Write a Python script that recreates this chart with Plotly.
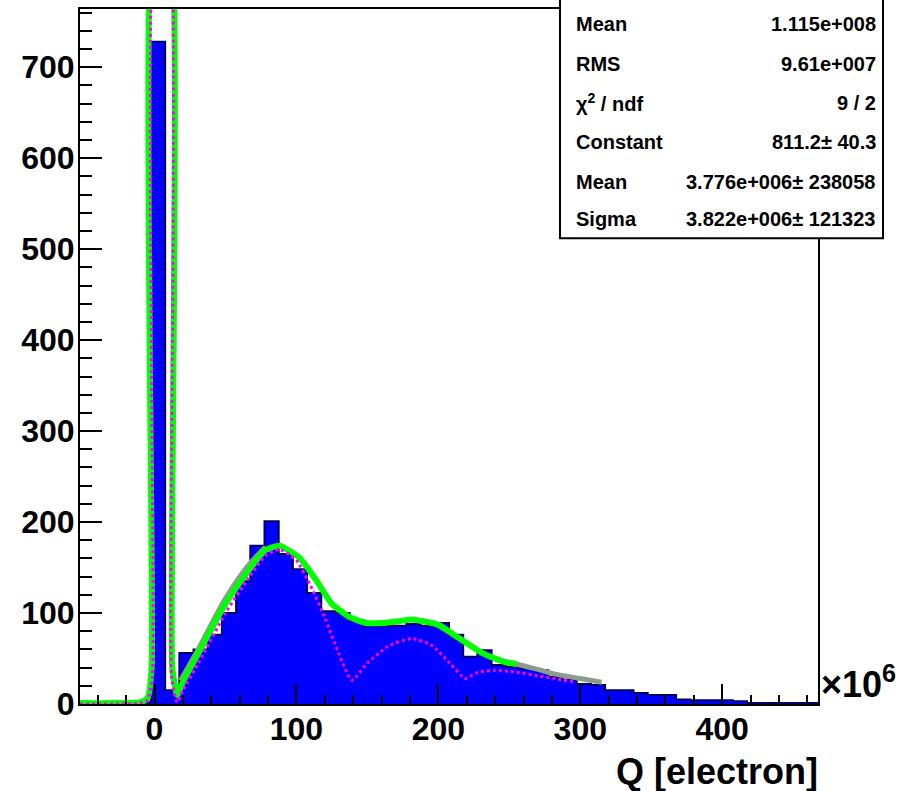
import plotly.graph_objects as go

# ---------------- data ----------------
bin_width = 10.0
bin_centers = [-47.5 + 10 * i for i in range(52)]
counts = [1, 1, 1, 1, 2, 728, 15, 56, 60, 76,
          100, 135, 174, 201, 165, 148, 122, 102, 100, 92,
          86, 86, 86, 88, 86, 89, 76, 52, 59, 43,
          41, 39, 37, 30, 27, 22, 21, 15, 15, 12,
          10, 10, 5, 4, 4, 4, 3, 1, 1, 1,
          1, 1]

# total fit curve (green)
fit_x = [-52.5, -30, -10, -5, -2, 0.5, 9.5, 12.5, 16,
         20, 31, 50, 66, 78, 88, 102, 114, 125, 137, 149, 160, 172, 181, 200, 214, 231, 247, 255]
fit_y = [1, 1, 2, 6, 40, 900, 900, 40, 10,
         24, 56, 110, 146, 169, 174, 161, 136, 110, 96, 89, 89, 91, 93, 87, 73, 56, 46, 44]

# grey shadow of the fit (rising edge and continuation)
shadow_x = [18, 31, 50, 66, 78]
shadow_y = [26, 62, 117, 153, 173]
tail_x = [240, 255, 270, 285, 300, 315]
tail_y = [49, 44, 38, 32, 28, 24]

# component curves (magenta dotted)
comp_x = [-52.5, -10, -5, -1.5, 1.5, 9, 12, 16,
          20, 31, 50, 66, 78, 88, 100, 110, 120, 130, 139,
          150, 165, 181, 195, 208, 219,
          228, 240, 255, 270, 285, 297]
comp_y = [0, 1, 4, 30, 900, 900, 30, 2,
          15, 45, 100, 138, 163, 170, 158, 130, 95, 55, 26,
          45, 64, 72, 65, 45, 28,
          35, 37, 35, 31, 27, 24]

x_ticks = [0, 100, 200, 300, 400]
y_ticks = [0, 100, 200, 300, 400, 500, 600, 700]

stat_labels = ["Mean", "RMS", "\u03c7<sup>2</sup> / ndf", "Constant", "Mean", "Sigma"]
stat_values = ["1.115e+008", "9.61e+007", "9 / 2", "811.2\u00b1 40.3",
               "3.776e+006\u00b1 238058", "3.822e+006\u00b1 121323"]

# ---------------- figure ----------------
edges = [c - bin_width / 2 for c in bin_centers] + [bin_centers[-1] + bin_width / 2]
step_y = counts + [counts[-1]]

fig = go.Figure()
fig.add_trace(go.Bar(x=bin_centers, y=counts, width=bin_width,
                     marker=dict(color="#0000ff", line=dict(width=0)), showlegend=False))
fig.add_trace(go.Scatter(x=edges, y=step_y, mode="lines", line=dict(color="#000066", width=2, shape="hv"),
                         showlegend=False))
fig.add_trace(go.Scatter(x=tail_x, y=tail_y, mode="lines", line=dict(color="#8c9c8c", width=5, shape="spline"),
                         showlegend=False))
fig.add_trace(go.Scatter(x=shadow_x, y=shadow_y, mode="lines",
                         line=dict(color="#8c9c8c", width=4, shape="spline"), showlegend=False))
fig.add_trace(go.Scatter(x=fit_x, y=fit_y, mode="lines", line=dict(color="#00ff00", width=6, shape="spline",
                                                                  smoothing=0.5),
                         showlegend=False))
fig.add_trace(go.Scatter(x=comp_x, y=comp_y, mode="lines", line=dict(color="#ff00ff", width=3, dash="dot",
                                                                    shape="spline", smoothing=0.5),
                         showlegend=False))

L, R, T, B = 80, 94, 7, 87
W, H = 912, 791
pw, ph = W - L - R, H - T - B


def px(xp):
    return (xp - L) / pw


def py(yp):
    return (H - B - yp) / ph


tickfont = dict(family="Liberation Sans, Arial, sans-serif", size=32, color="black", weight="bold")

fig.update_layout(
    width=W, height=H, margin=dict(l=L, r=R, t=T, b=B),
    paper_bgcolor="white", plot_bgcolor="white",
    bargap=0, showlegend=False,
    xaxis=dict(range=[-52.5, 467.5], tickvals=x_ticks, ticks="inside", ticklen=20, tickwidth=1.5,
               tickcolor="black", showline=True, linecolor="black", linewidth=2, mirror=True,
               showgrid=False, zeroline=False, tickfont=tickfont, ticklabelstandoff=-4,
               minor=dict(dtick=20, tick0=0, ticks="inside", ticklen=9, tickcolor="black", showgrid=False)),
    yaxis=dict(range=[0, 764], tickvals=y_ticks, ticks="inside", ticklen=22, tickwidth=1.5,
               tickcolor="black", showline=True, linecolor="black", linewidth=2, mirror=True,
               showgrid=False, zeroline=False, tickfont=tickfont, ticklabelstandoff=-3,
               minor=dict(dtick=20, tick0=0, ticks="inside", ticklen=12, tickcolor="black", showgrid=False)),
)

# stats box
fig.add_shape(type="rect", xref="paper", yref="paper", x0=px(560), x1=px(883), y0=py(237), y1=py(-10),
              line=dict(color="black", width=2), fillcolor="white", layer="above")

row_y = [22, 62, 101, 140, 180, 218]
sfont = dict(family="Liberation Sans, Arial, sans-serif", size=20, color="black", weight="bold")
for lab, val, yy in zip(stat_labels, stat_values, row_y):
    fig.add_annotation(xref="paper", yref="paper", x=px(574), y=py(yy), text=lab, showarrow=False,
                       xanchor="left", yanchor="middle", font=sfont)
    fig.add_annotation(xref="paper", yref="paper", x=px(878), y=py(yy), text=val, showarrow=False,
                       xanchor="right", yanchor="middle", font=sfont)

# exponent and axis title
fig.add_annotation(xref="paper", yref="paper", x=px(819), y=py(707), text="\u00d710<sup>6</sup>",
                   showarrow=False, xanchor="left", yanchor="bottom",
                   font=dict(family="Liberation Sans, Arial, sans-serif", size=36, color="black", weight="bold"))
fig.add_annotation(xref="paper", yref="paper", x=px(820), y=py(772), text="Q [electron]",
                   showarrow=False, xanchor="right", yanchor="middle",
                   font=dict(family="Liberation Sans, Arial, sans-serif", size=36, color="black", weight="bold"))

fig.write_html("out.html", config={"displayModeBar": False},
               post_script="document.body.style.margin='0';document.body.style.overflow='hidden';")
